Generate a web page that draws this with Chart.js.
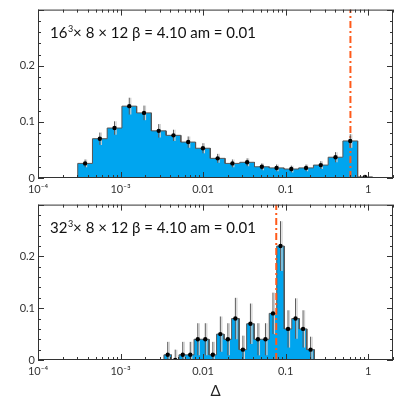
<!DOCTYPE html>
<html>
<head>
<meta charset="utf-8">
<script src="https://cdn.jsdelivr.net/npm/chart.js@4.4.0/dist/chart.umd.min.js"></script>
<style>
  html, body { margin: 0; padding: 0; background: #fff; }
  .panel { position: absolute; left: 0; }
</style>
</head>
<body>
<canvas id="topChart" class="panel" style="top:0" width="399" height="195"></canvas>
<canvas id="bottomChart" class="panel" style="top:195px" width="399" height="204"></canvas>
<script>
// bin edges (Delta)
const topEdges = [3.03e-4, 4.57e-4, 6.89e-4, 1.039e-3, 1.567e-3, 2.363e-3, 3.565e-3, 5.377e-3,
  8.11e-3, 0.01223, 0.01845, 0.02783, 0.04198, 0.06331, 0.0955, 0.144, 0.2173, 0.3277,
  0.4943, 0.7455, 1.1246];
const topValues = [0.026, 0.070, 0.089, 0.128, 0.116, 0.084, 0.076, 0.064, 0.053, 0.035,
  0.026, 0.028, 0.020, 0.018, 0.016, 0.018, 0.023, 0.037, 0.066, 0.002];
const topErrors = [0.007, 0.011, 0.012, 0.015, 0.013, 0.012, 0.010, 0.010, 0.009, 0.008,
  0.007, 0.007, 0.006, 0.006, 0.006, 0.006, 0.007, 0.009, 0.012, 0.003];
const topMarker = 0.61;

const bottomEdges = [3.357e-3, 4.141e-3, 5.107e-3, 6.298e-3, 7.769e-3, 9.583e-3, 0.01182,
  0.01458, 0.01798, 0.02218, 0.02735, 0.03374, 0.04161, 0.05132, 0.0633, 0.07807, 0.0963,
  0.1188, 0.1465, 0.1807, 0.2228];
const bottomValues = [0.01, 0.00, 0.01, 0.01, 0.04, 0.04, 0.01, 0.05, 0.04, 0.08,
  0.02, 0.07, 0.04, 0.04, 0.09, 0.22, 0.06, 0.08, 0.06, 0.02];
const bottomErrors = [0.025, 0.020, 0.025, 0.025, 0.031, 0.031, 0.025, 0.034, 0.031, 0.040,
  0.027, 0.039, 0.031, 0.031, 0.040, 0.048, 0.036, 0.039, 0.036, 0.025];
const bottomMarker = 0.077;

const xTickValues = [1e-4, 1e-3, 0.01, 0.1, 1];
const xTickLabels = ['10\u207B\u2074', '10\u207B\u00B3', '0.01', '0.1', '1'];
const yTickValues = [0, 0.1, 0.2];
const yTickLabels = ['0', '0.1', '0.2'];
const yMinorStep = 0.02;

const topLabel = ['16', '3', '\u00D7 8 \u00D7 12 \u03B2 = 4.10 am = 0.01'];
const bottomLabel = ['32', '3', '\u00D7 8 \u00D7 12 \u03B2 = 4.10 am = 0.01'];

const X_MIN = 1e-4, X_MAX = 2, Y_MAX = 0.3;
const BLUE = '#00a5ef';
const ORANGE = '#ff5a1a';
const FONT = 'Lato';

function stepData(edges, values) {
  const pts = [{ x: X_MIN, y: 0 }, { x: edges[0], y: 0 }];
  values.forEach((v, i) => {
    pts.push({ x: edges[i], y: v });
    pts.push({ x: edges[i + 1], y: v });
  });
  pts.push({ x: edges[edges.length - 1], y: 0 });
  pts.push({ x: X_MAX, y: 0 });
  return pts;
}

function centers(edges, values) {
  return values.map((v, i) => ({ x: Math.sqrt(edges[i] * edges[i + 1]), y: v }));
}

function makePanel(id, edges, values, errors, marker, label, bottomPad, isLower) {
  const pts = centers(edges, values);

  const decor = {
    id: 'decor',
    beforeDatasetDraw(chart, args) {
      if (args.index !== 2) return;
      const { ctx, scales: { x, y } } = chart;
      ctx.save();
      pts.forEach((p, i) => {
        const px = x.getPixelForValue(p.x);
        const lo = y.getPixelForValue(Math.max(0, p.y - errors[i]));
        const hi = y.getPixelForValue(p.y + errors[i]);
        ctx.strokeStyle = '#cfcfcf';
        ctx.lineWidth = 1.2;
        ctx.beginPath();
        ctx.moveTo(px + 1.5, lo); ctx.lineTo(px + 1.5, hi);
        ctx.stroke();
        ctx.strokeStyle = '#5a5a5a';
        ctx.lineWidth = 1;
        ctx.beginPath();
        ctx.moveTo(px, lo); ctx.lineTo(px, hi);
        ctx.stroke();
      });
      ctx.restore();
    },
    afterDraw(chart) {
      const { ctx, chartArea: a, scales: { x, y } } = chart;
      ctx.save();
      ctx.strokeStyle = '#333';
      ctx.lineWidth = 1;
      ctx.strokeRect(a.left + 0.5, a.top + 0.5, a.right - a.left - 1, a.bottom - a.top - 1);
      ctx.beginPath();
      for (let p = -4; p <= 0; p++) {
        for (let k = 1; k <= 9; k++) {
          const v = k * Math.pow(10, p);
          if (v > X_MAX) break;
          const px = Math.round(x.getPixelForValue(v)) + 0.5;
          const len = k === 1 ? 6 : 3;
          ctx.moveTo(px, a.bottom); ctx.lineTo(px, a.bottom - len);
          ctx.moveTo(px, a.top); ctx.lineTo(px, a.top + len);
        }
      }
      for (let v = 0; v <= Y_MAX + 1e-9; v += yMinorStep) {
        const py = Math.round(y.getPixelForValue(v)) + 0.5;
        const major = Math.abs(v * 10 - Math.round(v * 10)) < 1e-6;
        const len = major ? 6 : 3;
        ctx.moveTo(a.left, py); ctx.lineTo(a.left + len, py);
        ctx.moveTo(a.right, py); ctx.lineTo(a.right - len, py);
      }
      ctx.stroke();

      ctx.fillStyle = '#111';
      ctx.textBaseline = 'alphabetic';
      let tx = a.left + 12;
      const ty = 38;
      ctx.font = '15px ' + FONT;
      ctx.fillText(label[0], tx, ty);
      tx += ctx.measureText(label[0]).width + 0.5;
      ctx.font = '9px ' + FONT;
      ctx.fillText(label[1], tx, ty - 6);
      tx += ctx.measureText(label[1]).width;
      ctx.font = '15px ' + FONT;
      ctx.fillText(label[2], tx, ty);
      ctx.restore();
    }
  };

  return new Chart(document.getElementById(id), {
    type: 'line',
    data: {
      datasets: [
        {
          data: stepData(edges, values),
          fill: 'origin',
          backgroundColor: BLUE,
          borderColor: '#555',
          borderWidth: 1,
          pointRadius: 0,
          tension: 0,
          order: 4
        },
        {
          data: [{ x: marker, y: 0 }, { x: marker, y: Y_MAX }],
          borderColor: ORANGE,
          borderWidth: 2,
          borderDash: [7, 3, 2, 3],
          pointRadius: 0,
          fill: false,
          order: 3
        },
        {
          data: pts,
          showLine: false,
          pointRadius: 2.2,
          pointBackgroundColor: '#000',
          pointBorderColor: '#000',
          pointBorderWidth: 0,
          order: 1
        }
      ]
    },
    options: {
      responsive: false,
      animation: false,
      events: [],
      layout: { padding: { top: bottomPad, right: 6, left: 0, bottom: 0 } },
      plugins: { legend: { display: false }, tooltip: { enabled: false } },
      scales: {
        x: {
          type: 'logarithmic',
          min: X_MIN,
          max: X_MAX,
          grid: { display: false, drawTicks: false },
          border: { display: false },
          afterBuildTicks: s => { s.ticks = xTickValues.map(v => ({ value: v })); },
          afterFit: s => { s.height = isLower ? 39 : 17; },
          ticks: {
            autoSkip: false,
            maxRotation: 0,
            padding: 5,
            color: '#333',
            font: { family: FONT, size: 11 },
            callback: (v, i) => xTickLabels[i]
          },
          title: {
            display: isLower,
            text: '\u0394',
            color: '#222',
            font: { family: FONT, size: 15, lineHeight: 1 },
            padding: 0
          }
        },
        y: {
          type: 'linear',
          min: 0,
          max: Y_MAX,
          grid: { display: false, drawTicks: false },
          border: { display: false },
          afterBuildTicks: s => { s.ticks = yTickValues.map(v => ({ value: v })); },
          afterFit: s => { s.width = 38; },
          ticks: {
            padding: 3,
            color: '#333',
            font: { family: FONT, size: 11 },
            callback: (v, i) => yTickLabels[i]
          }
        }
      }
    },
    plugins: [decor]
  });
}

makePanel('topChart', topEdges, topValues, topErrors, topMarker, topLabel, 6, false);
makePanel('bottomChart', bottomEdges, bottomValues, bottomErrors, bottomMarker, bottomLabel, 9, true);
</script>
</body>
</html>
